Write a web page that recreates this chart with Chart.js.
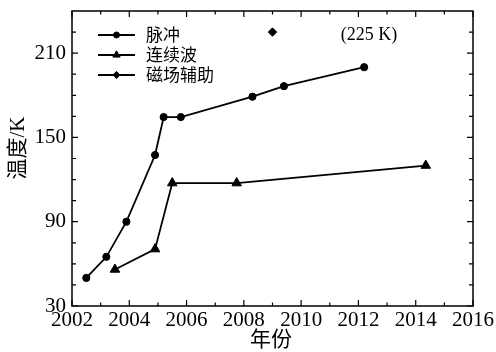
<!DOCTYPE html>
<html><head><meta charset="utf-8">
<script src="https://cdn.jsdelivr.net/npm/chart.js@4"></script>
<style>html,body{margin:0;padding:0;background:#fff}</style>
</head><body>
<canvas id="c" width="496" height="352"></canvas>
<script>
const pulseYears = [2002.5, 2003.2, 2003.9, 2004.9, 2005.2, 2005.8, 2008.3, 2009.4, 2012.2];
const pulseTemps = [50, 65, 90, 137.5, 164.5, 164.5, 179, 186.5, 200];
const cwYears = [2003.5, 2004.9, 2005.5, 2007.75, 2014.35];
const cwTemps = [56, 70.5, 117.5, 117.5, 130];
const magYears = [2009.0];
const magTemps = [225];
const seriesNames = ['脉冲', '连续波', '磁场辅助'];
const xTicks = [2002, 2004, 2006, 2008, 2010, 2012, 2014, 2016];
const xMinorTicks = [2003, 2005, 2007, 2009, 2011, 2013, 2015];
const yTicks = [30, 90, 150, 210];
const yMinorTicks = [45, 60, 75, 105, 120, 135, 165, 180, 195, 225];
const xTitle = '年份';
const yTitle = '温度/K';
const noteText = '(225 K)';

const pts = (xs, ys) => xs.map((x, i) => ({x: x, y: ys[i]}));
const serif = '"Liberation Serif", "Noto Sans CJK SC", serif';

const frame = {
  id: 'frame',
  afterDraw(chart) {
    const ctx = chart.ctx, a = chart.chartArea;
    const xs = chart.scales.x, ys = chart.scales.y;
    ctx.save();
    ctx.strokeStyle = '#000';
    ctx.lineWidth = 1.5;
    ctx.strokeRect(a.left, a.top, a.right - a.left, a.bottom - a.top);
    ctx.lineWidth = 1.2;
    ctx.beginPath();
    const tx = (v, len) => {
      const p = xs.getPixelForValue(v);
      ctx.moveTo(p, a.bottom); ctx.lineTo(p, a.bottom - len);
      ctx.moveTo(p, a.top); ctx.lineTo(p, a.top + len);
    };
    const ty = (v, len) => {
      const p = ys.getPixelForValue(v);
      ctx.moveTo(a.left, p); ctx.lineTo(a.left + len, p);
      ctx.moveTo(a.right, p); ctx.lineTo(a.right - len, p);
    };
    xTicks.forEach(v => tx(v, 6));
    xMinorTicks.forEach(v => tx(v, 3.5));
    yTicks.forEach(v => ty(v, 6));
    yMinorTicks.forEach(v => ty(v, 4));
    ctx.stroke();

    ctx.fillStyle = '#000';
    ctx.font = '21px ' + serif;
    ctx.textAlign = 'center';
    ctx.textBaseline = 'middle';
    ctx.fillText(xTitle, 271, 340);
    ctx.save();
    ctx.translate(18, 148);
    ctx.rotate(-Math.PI / 2);
    ctx.fillText(yTitle, 0, 0);
    ctx.restore();

    ctx.font = '18px ' + serif;
    ctx.fillText(noteText, 369, 35);

    const rows = [35, 55, 75];
    const radii = [3, 4.2, 3.6];
    chart.data.datasets.forEach((ds, i) => {
      const y = rows[i];
      ctx.strokeStyle = '#000';
      ctx.lineWidth = 1.8;
      ctx.beginPath();
      ctx.moveTo(98, y); ctx.lineTo(135, y);
      ctx.stroke();
      ctx.fillStyle = '#000';
      ctx.lineWidth = 1;
      Chart.helpers.drawPoint(ctx, {pointStyle: ds.pointStyle, radius: radii[i], borderWidth: 1, rotation: 0}, 116.5, y);
      ctx.font = '17px "Noto Sans CJK SC", sans-serif';
      ctx.textAlign = 'left';
      ctx.textBaseline = 'middle';
      ctx.fillText(ds.label, 146, y);
    });
    ctx.restore();
  }
};

new Chart(document.getElementById('c'), {
  type: 'line',
  data: {
    datasets: [
      {label: seriesNames[0], data: pts(pulseYears, pulseTemps), pointStyle: 'circle', pointRadius: 3.6},
      {label: seriesNames[1], data: pts(cwYears, cwTemps), pointStyle: 'triangle', pointRadius: 5.5},
      {label: seriesNames[2], data: pts(magYears, magTemps), pointStyle: 'rectRot', pointRadius: 4.2, showLine: false}
    ].map(d => Object.assign({
      borderColor: '#000', backgroundColor: '#000', borderWidth: 1.8,
      pointBorderWidth: 1, pointBackgroundColor: '#000', pointBorderColor: '#000',
      tension: 0, fill: false
    }, d))
  },
  options: {
    responsive: false,
    animation: false,
    devicePixelRatio: 1,
    layout: {padding: {left: 0, right: 23, top: 11, bottom: 0}},
    plugins: {legend: {display: false}, tooltip: {enabled: false}},
    scales: {
      x: {
        type: 'linear', min: 2002, max: 2016,
        afterBuildTicks: s => { s.ticks = xTicks.map(v => ({value: v})); },
        afterFit: s => { s.height = 46; s.paddingLeft = 0; s.paddingRight = 0; },
        grid: {display: false, drawTicks: false},
        border: {display: false},
        ticks: {color: '#000', font: {family: serif, size: 21}, padding: 2, maxRotation: 0, autoSkip: false,
                callback: v => String(v)}
      },
      y: {
        type: 'linear', min: 30, max: 240,
        afterBuildTicks: s => { s.ticks = yTicks.map(v => ({value: v})); },
        afterFit: s => { s.width = 72; s.paddingTop = 0; s.paddingBottom = 0; },
        grid: {display: false, drawTicks: false},
        border: {display: false},
        ticks: {color: '#000', font: {family: serif, size: 21}, padding: 6, autoSkip: false,
                callback: v => String(v)}
      }
    }
  },
  plugins: [frame]
});
</script>
</body></html>
